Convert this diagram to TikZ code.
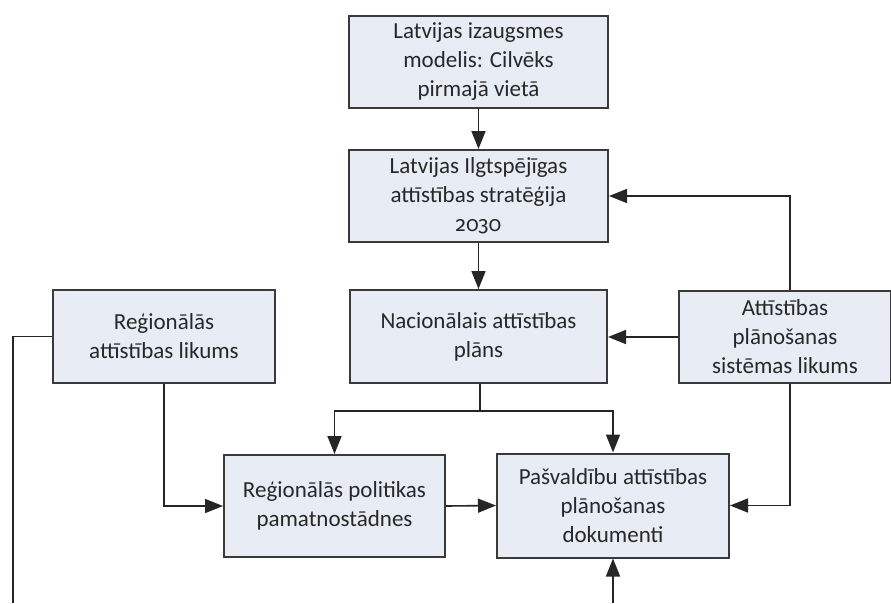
\documentclass[tikz,border=0pt]{standalone}
\usepackage{fontspec}
\setmainfont{Carlito}
\newfontfamily\oldnum{Fira Sans}[Numbers=OldStyle]
\usetikzlibrary{arrows.meta}
\definecolor{boxfill}{RGB}{232,236,245}
\definecolor{boxline}{RGB}{58,58,58}
\definecolor{txt}{RGB}{40,40,40}
\begin{document}
\begin{tikzpicture}[x=1pt,y=-1pt,
  box/.style={draw=boxline,line width=2pt,fill=boxfill,align=center,text=txt,
    font=\fontsize{23}{29}\selectfont,inner sep=2pt},
  conn/.style={draw=black!85,line width=1.6pt},
  arr/.style={conn,-{Triangle[length=18pt,width=14pt]}}]
\useasboundingbox[fill=white] (0,0) rectangle (891,603);
\node[box,minimum width=259pt,minimum height=92pt] (b1) at (478.5,62) {Latvijas izaugsmes\\modelis: Cilvēks\\pirmajā vietā};
\node[box,minimum width=259pt,minimum height=92pt] (b2) at (478.5,196) {Latvijas Ilgtspējīgas\\attīstības stratēģija\\{\oldnum\fontsize{21}{29}\selectfont 2030}};
\node[box,minimum width=257pt,minimum height=93pt] (b3) at (478.5,336.5) {Nacionālais attīstības\\plāns};
\node[box,minimum width=222pt,minimum height=93pt] (lb) at (164,336.5) {Reģionālās\\attīstības likums};
\node[box,minimum width=212pt,minimum height=92pt] (rb) at (785,337) {Attīstības\\plānošanas\\sistēmas likums};
\node[box,minimum width=221pt,minimum height=102pt] (rp) at (334.5,506) {Reģionālās politikas\\pamatnostādnes};
\node[box,minimum width=232pt,minimum height=104pt] (pv) at (613,505.5) {Pašvaldību attīstības\\plānošanas\\dokumenti};
\coordinate (j) at (480,411);
\coordinate (lbend) at (13,603);
\coordinate (pvin) at (613,603);
\draw[arr] (b1) -- (b2);
\draw[arr] (b2) -- (b3);
\draw[conn] (b3.south -| j) -- (j);
\draw[arr] (j) -| (rp.north);
\draw[arr] (j) -| (pv.north);
\draw[arr] (lb.south) |- (rp.west);
\draw[conn] (lb.west) -| (lbend);
\draw[arr] (rp.east) -- (pv.west);
\draw[arr] ([xshift=5pt]rb.north) |- (b2.east);
\draw[arr] (rb.west) -- (b3.east |- rb.west);
\draw[arr] ([xshift=5pt]rb.south) |- (pv.east);
\draw[arr] (pvin) -- (pv.south);
\end{tikzpicture}
\end{document}
